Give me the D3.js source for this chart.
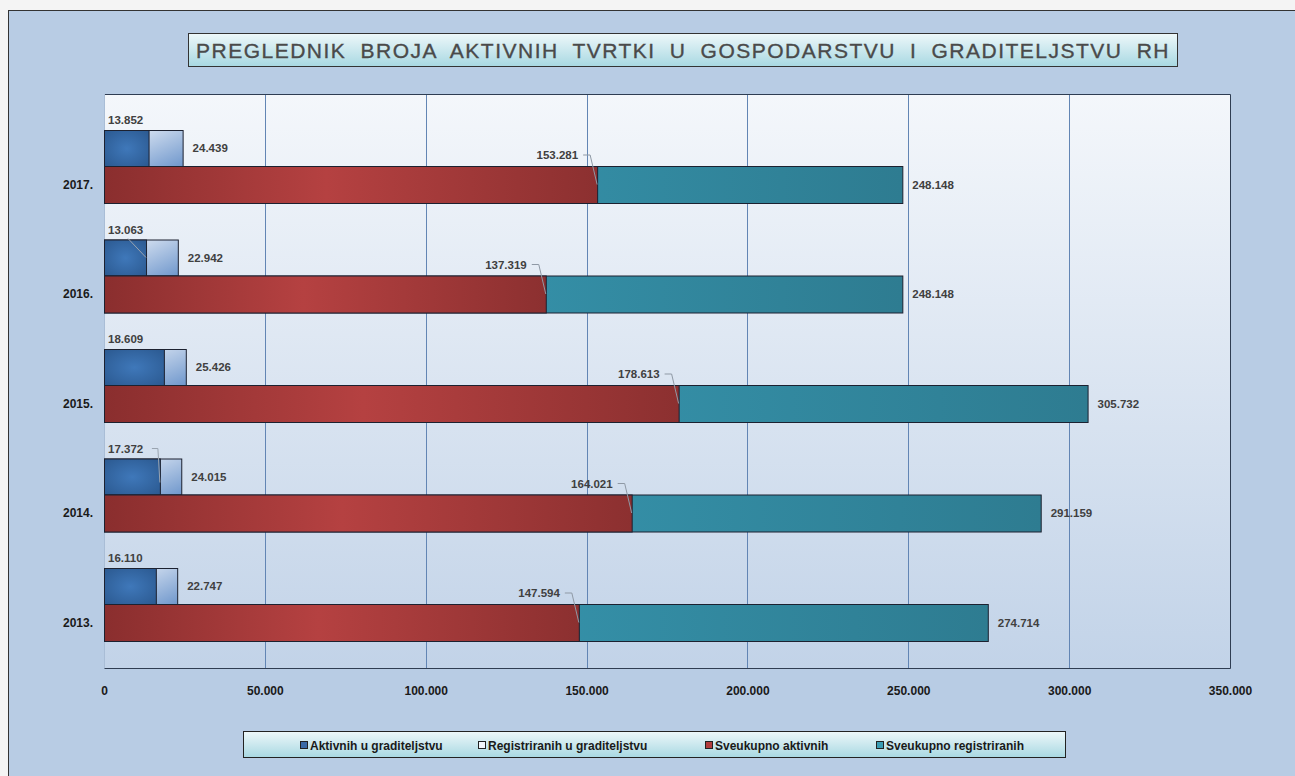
<!DOCTYPE html>
<html>
<head>
<meta charset="utf-8">
<script src="https://cdn.jsdelivr.net/npm/d3@7"></script>
<style>
  body { margin: 0; background: #f4f4f4; }
  text { font-family: "Liberation Sans", Arial, sans-serif; }
</style>
</head>
<body>
<div id="chart"></div>
<script>
// data
var years = ["2017.", "2016.", "2015.", "2014.", "2013."];
var aktivnihGrad = [13852, 13063, 18609, 17372, 16110];
var registriranihGrad = [24439, 22942, 25426, 24015, 22747];
var sveukupnoAktivnih = [153281, 137319, 178613, 164021, 147594];
var sveukupnoRegistriranih = [248148, 248148, 305732, 291159, 274714];
var xTicks = [0, 50000, 100000, 150000, 200000, 250000, 300000, 350000];
var movedLabels = ["2016.", "2014."];
var seriesNames = ["Aktivnih u graditeljstvu", "Registriranih u graditeljstvu", "Sveukupno aktivnih", "Sveukupno registriranih"];

var W = 1295, H = 776;
var plot = {left: 104, right: 1230, top: 94, bottom: 668};

var hr = d3.formatLocale({decimal: ",", thousands: ".", grouping: [3], currency: ["", ""]});
var fmt = hr.format(",d");

var svg = d3.select("#chart").append("svg")
  .attr("width", W).attr("height", H);

var defs = svg.append("defs");
function linGrad(id, x2, y2, stops) {
  var g = defs.append("linearGradient").attr("id", id)
    .attr("x1", 0).attr("y1", 0).attr("x2", x2).attr("y2", y2);
  stops.forEach(function(s) {
    g.append("stop").attr("offset", s[0]).attr("stop-color", s[1]);
  });
}
linGrad("plotBg", 0, 1, [[0, "#f4f7fb"], [1, "#c2d3e8"]]);
linGrad("boxBg", 0, 1, [[0, "#eef8fa"], [1, "#a8d8e2"]]);
linGrad("redG", 1, 0, [[0, "#8a2e2e"], [0.45, "#b54141"], [1, "#8c3030"]]);
linGrad("tealG", 1, 0, [[0, "#3ba4bf"], [1, "#2e7c91"]]);
linGrad("regG", 1, 1, [[0, "#f4f7fc"], [1, "#6f97cc"]]);
var rg = defs.append("radialGradient").attr("id", "blueG").attr("cx", 0.5).attr("cy", 0.5).attr("r", 0.7);
rg.append("stop").attr("offset", 0).attr("stop-color", "#3f78ba");
rg.append("stop").attr("offset", 1).attr("stop-color", "#2b5990");

// outer frame
svg.append("rect").attr("x", 8.5).attr("y", 10.5).attr("width", W).attr("height", H)
  .attr("fill", "#b8cce4").attr("stroke", "#333");

// title
svg.append("rect").attr("x", 188.5).attr("y", 33.5).attr("width", 989).attr("height", 33)
  .attr("fill", "url(#boxBg)").attr("stroke", "#333");
var title = svg.append("text").attr("x", 196).attr("y", 58)
  .style("font-size", "21px").style("letter-spacing", "1.5px")
  .attr("fill", "#4a4a4a").attr("stroke", "#4a4a4a").attr("stroke-width", 0.35)
  .text("PREGLEDNIK BROJA AKTIVNIH TVRTKI U GOSPODARSTVU I GRADITELJSTVU RH");
var tl = title.node().getComputedTextLength();
title.style("word-spacing", Math.max(0, (974 - tl) / 8) + "px");

var x = d3.scaleLinear().domain([0, 350000]).range([plot.left, plot.right]);
var y = d3.scalePoint().domain(years).range([166, 604]);
var smallH = 36, bigH = 37;

// plot area
svg.append("rect").attr("x", plot.left).attr("y", plot.top)
  .attr("width", plot.right - plot.left).attr("height", plot.bottom - plot.top)
  .attr("fill", "url(#plotBg)");

svg.append("g").selectAll("line").data(xTicks.slice(1, -1)).enter().append("line")
  .attr("x1", function(d) { return Math.round(x(d)) + 0.5; })
  .attr("x2", function(d) { return Math.round(x(d)) + 0.5; })
  .attr("y1", plot.top).attr("y2", plot.bottom)
  .attr("stroke", "#6285b4").attr("stroke-width", 1);

svg.append("path")
  .attr("d", "M" + (plot.left + 0.5) + "," + (plot.top + 0.5) + "H" + (plot.right + 0.5) + "V" + (plot.bottom + 0.5) + "H" + (plot.left + 0.5))
  .attr("fill", "none").attr("stroke", "#2f3d52");
svg.append("line").attr("x1", plot.left + 0.5).attr("x2", plot.left + 0.5)
  .attr("y1", plot.top).attr("y2", plot.bottom).attr("stroke", "#a9bdd6");

var xAxis = svg.append("g")
  .attr("transform", "translate(0," + plot.bottom + ")")
  .call(d3.axisBottom(x).tickValues(xTicks).tickFormat(fmt).tickSize(0).tickPadding(18));
xAxis.select(".domain").remove();
xAxis.selectAll("text").style("font-size", "12px").style("font-weight", "bold")
  .style("font-family", "'Liberation Sans', Arial, sans-serif").attr("fill", "#1a1a1a");

var rows = years.map(function(yr, i) {
  return {year: yr, a: aktivnihGrad[i], r: registriranihGrad[i], sa: sveukupnoAktivnih[i], sr: sveukupnoRegistriranih[i]};
});

var g = svg.append("g").selectAll("g").data(rows).enter().append("g");

function bar(sel, val, top, h, fill) {
  sel.append("rect")
    .attr("x", x(0) + 0.5)
    .attr("y", function(d) { return top(d) + 0.5; })
    .attr("width", function(d) { return x(val(d)) - x(0); })
    .attr("height", h)
    .attr("fill", fill).attr("stroke", "#1c2130").attr("stroke-width", 1);
}
bar(g, function(d) { return d.r; }, function(d) { return y(d.year) - smallH; }, smallH, "url(#regG)");
bar(g, function(d) { return d.a; }, function(d) { return y(d.year) - smallH; }, smallH, "url(#blueG)");
bar(g, function(d) { return d.sr; }, function(d) { return y(d.year); }, bigH, "url(#tealG)");
bar(g, function(d) { return d.sa; }, function(d) { return y(d.year); }, bigH, "url(#redG)");

var lblStyle = function(t) {
  t.style("font-size", "11.5px").style("font-weight", "bold").attr("fill", "#404040");
};

// year labels
g.append("text").attr("x", 93).attr("y", function(d) { return y(d.year) + bigH / 2 + 4; })
  .attr("text-anchor", "end").style("font-size", "12px").style("font-weight", "bold")
  .attr("fill", "#1a1a1a").text(function(d) { return d.year; });

// aktivnih u graditeljstvu labels
g.append("text").attr("x", 108).attr("y", function(d) { return y(d.year) - smallH - 6; })
  .call(lblStyle).text(function(d) { return fmt(d.a); });
g.filter(function(d) { return movedLabels.indexOf(d.year) >= 0; }).append("path")
  .attr("d", function(d) {
    var yy = y(d.year) - smallH - 10;
    if (d.year === "2016.") return "M128," + (yy + 9) + "L" + x(d.a) + "," + (y(d.year) - smallH / 2);
    return "M" + (x(d.a) - 8) + "," + yy + "H" + (x(d.a) - 2) + "L" + x(d.a) + "," + (y(d.year) - smallH / 2 + 6);
  })
  .attr("fill", "none").attr("stroke", "#9aa4b0").attr("stroke-width", 1);

// registriranih u graditeljstvu labels
g.append("text").attr("x", function(d) { return x(d.r) + 10; })
  .attr("y", function(d) { return y(d.year) - smallH / 2 + 4; })
  .call(lblStyle).text(function(d) { return fmt(d.r); });

// sveukupno aktivnih labels with leader lines
g.append("text").attr("x", function(d) { return x(d.sa) - 19; })
  .attr("y", function(d) { return y(d.year) - 7; })
  .attr("text-anchor", "end")
  .call(lblStyle).text(function(d) { return fmt(d.sa); });
g.append("path")
  .attr("d", function(d) {
    var yy = y(d.year) - 11;
    return "M" + (x(d.sa) - 14) + "," + yy + "H" + (x(d.sa) - 7) + "L" + x(d.sa) + "," + (y(d.year) + bigH / 2);
  })
  .attr("fill", "none").attr("stroke", "#8f99a5").attr("stroke-width", 1);

// sveukupno registriranih labels
g.append("text").attr("x", function(d) { return x(d.sr) + 10; })
  .attr("y", function(d) { return y(d.year) + bigH / 2 + 4; })
  .call(lblStyle).text(function(d) { return fmt(d.sr); });

// legend
var legendFills = ["#3a6aa6", "#f2f6fb", "#b23c3c", "#3a9cb3"];
var legendX = [300, 478, 705, 876];
svg.append("rect").attr("x", 243.5).attr("y", 731.5).attr("width", 822).attr("height", 26)
  .attr("fill", "url(#boxBg)").attr("stroke", "#222");
var li = svg.append("g").selectAll("g").data(seriesNames).enter().append("g")
  .attr("transform", function(d, i) { return "translate(" + legendX[i] + ",745)"; });
li.append("rect").attr("x", 0.5).attr("y", -3.5).attr("width", 7).attr("height", 7)
  .attr("fill", function(d, i) { return legendFills[i]; }).attr("stroke", "#222");
li.append("text").attr("x", 10).attr("y", 4.5)
  .style("font-family", "'Liberation Sans Narrow', 'Liberation Sans', Arial, sans-serif")
  .style("font-size", "12px").style("font-weight", "bold").attr("fill", "#1a1a1a")
  .text(function(d) { return d; });
</script>
</body>
</html>
